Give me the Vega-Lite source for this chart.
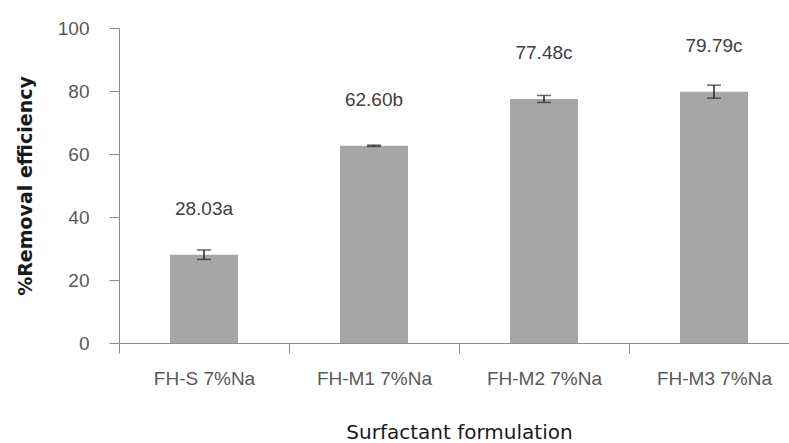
{
  "$schema": "https://vega.github.io/schema/vega-lite/v6.json",
  "autosize": {"type": "none"},
  "padding": {"left": 119, "top": 28, "right": 0, "bottom": 100},
  "width": 670,
  "height": 315,
  "background": "white",
  "config": {"view": {"stroke": null}},
  "data": {"values": [
    {"formulation": "FH-S 7%Na", "removal": 28.03, "err": 1.5, "label": "28.03a"},
    {"formulation": "FH-M1 7%Na", "removal": 62.60, "err": 0.2, "label": "62.60b"},
    {"formulation": "FH-M2 7%Na", "removal": 77.48, "err": 1.1, "label": "77.48c"},
    {"formulation": "FH-M3 7%Na", "removal": 79.79, "err": 2.06, "label": "79.79c"}
  ]},
  "layer": [
    {
      "mark": {"type": "bar", "color": "#a6a6a6"},
      "encoding": {
        "x": {
          "field": "formulation", "type": "nominal", "sort": null,
          "scale": {"range": [0, 680], "paddingInner": 0.6, "paddingOuter": 0.3},
          "axis": {
            "title": "Surfactant formulation", "labelAngle": 0,
            "ticks": true, "tickOffset": -85, "labelOffset": 85,
            "tickSize": 10, "tickWidth": 1, "tickColor": "#8c8c8c", "domainColor": "#8c8c8c",
            "labelFont": "Liberation Sans", "labelFontSize": 19, "labelColor": "#595959", "labelPadding": 16,
            "titleFont": "DejaVu Sans", "titleFontSize": 20, "titleFontWeight": "normal", "titleColor": "#1a1a1a",
            "titleX": 340, "titleY": 95, "titleBaseline": "alphabetic"
          }
        },
        "y": {
          "field": "removal", "type": "quantitative",
          "title": "%Removal efficiency",
          "scale": {"domain": [0, 100]},
          "axis": {
            "values": [0, 20, 40, 60, 80, 100], "grid": false,
            "tickSize": 10, "tickColor": "#8c8c8c", "domainColor": "#8c8c8c",
            "labelFont": "Liberation Sans", "labelFontSize": 19, "labelColor": "#595959", "labelPadding": 20,
            "titleFont": "DejaVu Sans", "titleFontSize": 19, "titleFontWeight": "bold", "titleColor": "#1a1a1a",
            "titleX": -94, "titleY": 157.5, "titleBaseline": "middle"
          }
        }
      }
    },
    {
      "mark": {"type": "errorbar", "ticks": {"size": 14, "thickness": 1.5, "color": "#262626"}, "rule": {"strokeWidth": 1.5, "color": "#262626"}},
      "encoding": {
        "x": {"field": "formulation", "type": "nominal", "sort": null},
        "y": {"field": "removal", "type": "quantitative", "title": "%Removal efficiency"},
        "yError": {"field": "err"}
      }
    },
    {
      "mark": {"type": "text", "font": "Liberation Sans", "fontSize": 19, "color": "#404040", "baseline": "alphabetic", "dy": -40},
      "encoding": {
        "x": {"field": "formulation", "type": "nominal", "sort": null},
        "y": {"field": "removal", "type": "quantitative", "title": "%Removal efficiency"},
        "text": {"field": "label"}
      }
    }
  ]
}
